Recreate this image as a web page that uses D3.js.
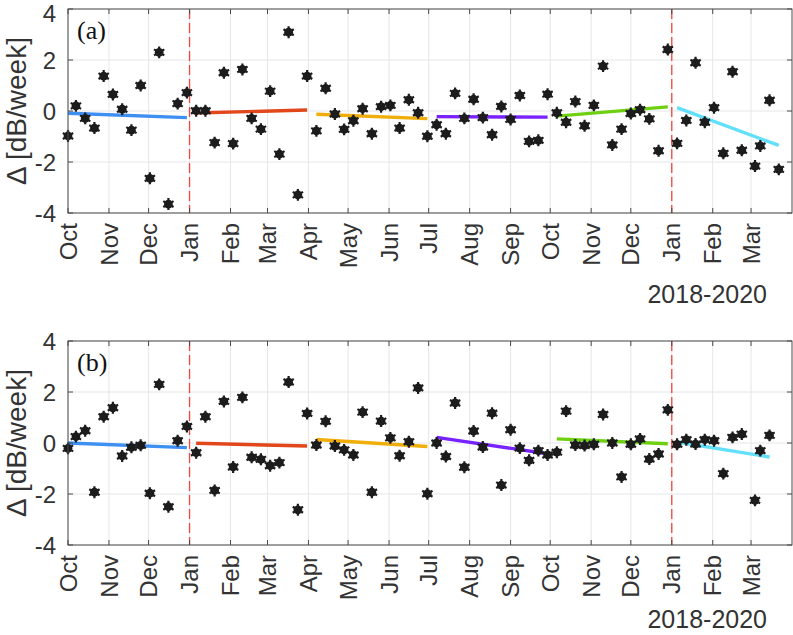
<!DOCTYPE html>
<html>
<head>
<meta charset="utf-8">
<script src="https://cdn.jsdelivr.net/npm/d3@7"></script>
<style>
  body { margin: 0; background: #fff; }
  text { font-family: "Liberation Sans", Arial, Helvetica, sans-serif; fill: #333; }
</style>
</head>
<body>
<div id="chart"></div>
<script>
// weekly sample dates (Oct 2018 - Mar 2020)
var dates = [
  "2018-10-01","2018-10-07","2018-10-14","2018-10-21","2018-10-28","2018-11-04","2018-11-11",
  "2018-11-18","2018-11-25","2018-12-02","2018-12-09","2018-12-16","2018-12-23","2018-12-30",
  "2019-01-06","2019-01-13","2019-01-20","2019-01-27","2019-02-03","2019-02-10","2019-02-17",
  "2019-02-24","2019-03-03","2019-03-10","2019-03-17","2019-03-24","2019-03-31",
  "2019-04-07","2019-04-14","2019-04-21","2019-04-28","2019-05-05","2019-05-12","2019-05-19",
  "2019-05-26","2019-06-02","2019-06-09","2019-06-16","2019-06-23","2019-06-30",
  "2019-07-07","2019-07-14","2019-07-21","2019-07-28","2019-08-04","2019-08-11","2019-08-18",
  "2019-08-25","2019-09-01","2019-09-08","2019-09-15","2019-09-22","2019-09-29",
  "2019-10-06","2019-10-13","2019-10-20","2019-10-27","2019-11-03","2019-11-10","2019-11-17",
  "2019-11-24","2019-12-01","2019-12-08","2019-12-15","2019-12-22","2019-12-29",
  "2020-01-05","2020-01-12","2020-01-19","2020-01-26","2020-02-02","2020-02-09","2020-02-16",
  "2020-02-23","2020-03-04","2020-03-08","2020-03-15","2020-03-22"
];

// panel (a) weekly change [dB/week]
var valuesA = [
  -0.98, 0.20, -0.29, -0.67, 1.37, 0.65, 0.07, -0.75, 1.00, -2.64, 2.30, -3.65, 0.29, 0.72,
  0.01, 0.01, -1.24, 1.50, -1.28, 1.63, -0.29, -0.71, 0.78, -1.69, 3.09, -3.29, 1.37,
  -0.78, 0.89, -0.12, -0.72, -0.38, 0.09, -0.89, 0.17, 0.22, -0.67, 0.44, -0.07, -0.99,
  -0.54, -0.89, 0.69, -0.29, 0.46, -0.26, -0.93, 0.18, -0.33, 0.61, -1.19, -1.15, 0.66,
  -0.07, -0.44, 0.37, -0.58, 0.22, 1.76, -1.33, -0.71, -0.10, 0.05, -0.31, -1.56, 2.41,
  -1.27, -0.37, 1.89, -0.44, 0.13, -1.66, 1.54, -1.54, -2.16, -1.37, 0.42, -2.29
];

// panel (b) weekly change [dB/week]
var valuesB = [
  -0.21, 0.25, 0.48, -1.93, 1.03, 1.38, -0.51, -0.17, -0.09, -1.97, 2.30, -2.50, 0.09, 0.65,
  -0.38, 1.03, -1.86, 1.63, -0.94, 1.79, -0.56, -0.64, -0.89, -0.77, 2.39, -2.62, 1.16,
  -0.08, 0.85, -0.12, -0.27, -0.47, 1.21, -1.93, 0.86, 0.20, -0.50, 0.05, 2.16, -1.99,
  0.00, -0.53, 1.57, -0.95, 0.47, -0.16, 1.17, -1.65, 0.52, -0.20, -0.68, -0.30, -0.47,
  -0.36, 1.25, -0.08, -0.10, -0.05, 1.12, 0.00, -1.33, -0.05, 0.16, -0.63, -0.43, 1.30,
  -0.05, 0.13, -0.04, 0.13, 0.09, -1.20, 0.22, 0.35, -2.25, -0.30, 0.30
];

// seasonal (3-month) trend line end values [start, end]
var trendA = [[-0.09, -0.26], [-0.08, 0.04], [-0.13, -0.30], [-0.22, -0.24], [-0.20, 0.16], [0.13, -1.35]];
var trendB = [[0.00, -0.18], [-0.01, -0.12], [0.14, -0.14], [0.22, -0.42], [0.16, -0.03], [0.04, -0.55]];

var seasonBreaks = ["2018-10-01", "2019-01-01", "2019-04-01", "2019-07-01", "2019-10-01", "2020-01-01", "2020-04-01"];
var seasonColors = ["#3d8ff2", "#e2461b", "#f0ae0a", "#7722ff", "#6fd012", "#62e0fb"];
var yearBreaks = ["2019-01-01", "2020-01-01"];
var yTicks = [-4, -2, 0, 2, 4];

var parse = d3.timeParse("%Y-%m-%d");

var svgWidth = 793, svgHeight = 635;
var margin = { left: 68, right: 1 };
var width = svgWidth - margin.left - margin.right;
var height = 204;

var svg = d3.select("#chart").append("svg")
  .attr("width", svgWidth)
  .attr("height", svgHeight);

var xScale = d3.scaleTime()
  .domain([parse(seasonBreaks[0]), parse(seasonBreaks[seasonBreaks.length - 1])])
  .range([0, width]);

var yScale = d3.scaleLinear()
  .domain([-4, 4])
  .range([height, 0]);

var monthTicks = d3.timeMonth.range(parse("2018-10-01"), parse("2020-04-01"));

function drawPanel(top, values, trend, label, yearY) {
  var g = svg.append("g").attr("transform", `translate(${margin.left}, ${top})`);

  var pts = values.map(function(v, i) { return { date: parse(dates[i]), value: v }; });

  // grid
  g.append("g").selectAll("line").data(monthTicks).enter().append("line")
    .attr("x1", d => xScale(d)).attr("x2", d => xScale(d))
    .attr("y1", 0).attr("y2", height)
    .attr("stroke", "#e4e6e8").attr("stroke-width", 1);
  g.append("g").selectAll("line").data(yTicks).enter().append("line")
    .attr("x1", 0).attr("x2", width)
    .attr("y1", d => yScale(d)).attr("y2", d => yScale(d))
    .attr("stroke", "#e4e6e8").attr("stroke-width", 1);

  // year separators
  g.append("g").selectAll("line").data(yearBreaks).enter().append("line")
    .attr("x1", d => xScale(parse(d))).attr("x2", d => xScale(parse(d)))
    .attr("y1", 0).attr("y2", height)
    .attr("stroke", "#f5453d").attr("stroke-width", 1.3)
    .attr("stroke-dasharray", "10,4");

  // seasonal trend lines
  for (var s = 0; s < seasonColors.length; s++) {
    var lo = parse(seasonBreaks[s]), hi = parse(seasonBreaks[s + 1]);
    var inSeason = pts.filter(p => p.date >= lo && p.date < hi);
    if (!inSeason.length) continue;
    g.append("line")
      .attr("x1", xScale(inSeason[0].date))
      .attr("x2", xScale(inSeason[inSeason.length - 1].date))
      .attr("y1", yScale(trend[s][0]))
      .attr("y2", yScale(trend[s][1]))
      .attr("stroke", seasonColors[s])
      .attr("stroke-width", 3.4);
  }

  // markers
  var star = d3.symbol().type(d3.symbolAsterisk).size(100);
  var marks = g.append("g").selectAll("g").data(pts).enter().append("g")
    .attr("transform", d => `translate(${xScale(d.date)}, ${yScale(d.value)})`);
  marks.append("circle").attr("r", 4.4).attr("fill", "#1c1c1c");
  marks.append("path").attr("d", star).attr("stroke", "#1c1c1c").attr("stroke-width", 2.2).attr("fill", "none");

  // axes box and inward ticks
  var axisColor = "#4a4a4a";
  g.append("rect").attr("width", width).attr("height", height)
    .attr("fill", "none").attr("stroke", axisColor).attr("stroke-width", 1);

  var tickLen = 5;
  monthTicks.forEach(function(d) {
    var x = xScale(d);
    g.append("line").attr("x1", x).attr("x2", x).attr("y1", height).attr("y2", height - tickLen).attr("stroke", axisColor);
    g.append("line").attr("x1", x).attr("x2", x).attr("y1", 0).attr("y2", tickLen).attr("stroke", axisColor);
  });
  yTicks.forEach(function(d) {
    var y = yScale(d);
    g.append("line").attr("x1", 0).attr("x2", tickLen).attr("y1", y).attr("y2", y).attr("stroke", axisColor);
    g.append("line").attr("x1", width).attr("x2", width - tickLen).attr("y1", y).attr("y2", y).attr("stroke", axisColor);
  });

  // y tick labels (keep the top one inside the page)
  g.append("g").selectAll("text").data(yTicks).enter().append("text")
    .attr("x", -12)
    .attr("y", d => Math.max(yScale(d) + 8.6, 22 - top))
    .attr("text-anchor", "end").style("font-size", "24px")
    .text(d => d);

  // x tick labels (rotated)
  var fmt = d3.timeFormat("%b");
  g.append("g").selectAll("text").data(monthTicks).enter().append("text")
    .attr("transform", d => `translate(${xScale(d)}, ${height + 10}) rotate(-90)`)
    .attr("dy", "0.36em")
    .attr("text-anchor", "end").style("font-size", "24px")
    .text(d => fmt(d));

  // y axis label
  g.append("text")
    .attr("transform", `translate(${26 - margin.left}, ${height / 2}) rotate(-90)`)
    .attr("text-anchor", "middle").style("font-size", "28px")
    .text("\u0394 [dB/week]");

  // panel label
  g.append("text")
    .attr("x", 9).attr("y", 30)
    .style("font-family", "'Liberation Serif', 'Times New Roman', serif")
    .style("font-size", "26px").style("fill", "#111")
    .text(label);

  // date range label
  g.append("text")
    .attr("x", 767 - margin.left).attr("y", yearY)
    .attr("text-anchor", "end").style("font-size", "25px")
    .text("2018-2020");
}

drawPanel(9, valuesA, trendA, "(a)", 294);
drawPanel(341, valuesB, trendB, "(b)", 287);
</script>
</body>
</html>
